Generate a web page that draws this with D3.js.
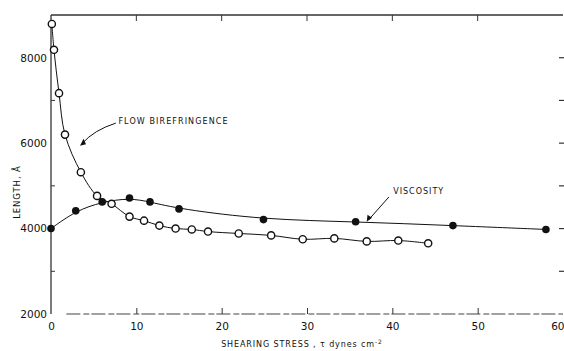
<!DOCTYPE html>
<html><head><meta charset="utf-8">
<script src="https://cdn.jsdelivr.net/npm/d3@7"></script>
<style>body{margin:0;background:#fff}svg{display:block}text{font-family:"DejaVu Sans",sans-serif;fill:#111}</style>
</head><body>
<svg id="c" width="564" height="351"></svg>
<script>
// Flow birefringence (open circles)
const flowX = [0.1,0.35,0.94,1.64,3.5,5.4,7.1,9.2,10.9,12.7,14.6,16.5,18.4,22.0,25.8,29.5,33.2,37.0,40.7,44.2];
const flowY = [8790,8185,7170,6200,5320,4765,4580,4280,4185,4070,4000,3980,3930,3885,3840,3750,3770,3700,3720,3655];
// Viscosity (filled circles)
const viscX = [0,2.9,6.0,9.2,11.6,15.0,24.9,35.7,47.1,58.0];
const viscY = [4000,4415,4625,4715,4625,4460,4210,4160,4070,3980];
const xTicks = [0,10,20,30,40,50,60];
const yLabelTicks = [2000,4000,6000,8000];
const yMinorTicks = [3000,5000,7000];
const yRightTicks = [3000,4000,5000,6000,7000,8000];

const svg = d3.select("#c");
const x = d3.scaleLinear().domain([0,60]).range([51,563]);
const y = d3.scaleLinear().domain([2000,9000]).range([314,15]);

// frame lines
svg.append("line").attr("x1",x(0)).attr("x2",x(0)).attr("y1",y(9000)).attr("y2",y(2000)).attr("stroke","#222").attr("stroke-width",1.2);
svg.append("line").attr("x1",x(0)).attr("x2",x(60)).attr("y1",y(9000)).attr("y2",y(9000)).attr("stroke","#333").attr("stroke-width",1.4);
svg.append("line").attr("x1",x(1.8)).attr("x2",x(60)).attr("y1",y(2000)).attr("y2",y(2000)).attr("stroke","#444").attr("stroke-width",1.2).attr("stroke-dasharray","14,3,6,2");

// bottom axis
const xb = d3.axisBottom(x).tickValues(xTicks).tickSize(-6).tickPadding(9).tickFormat(d3.format("d"));
const gx = svg.append("g").attr("transform",`translate(0,${y(2000)})`).call(xb);
gx.select(".domain").remove();
gx.selectAll(".tick line").attr("stroke","#333").filter(d=>d===0||d===60).remove();
gx.selectAll("text").attr("font-size",10.5).attr("fill","#222");
gx.selectAll(".tick text").filter(d=>d===60).attr("text-anchor","end").attr("dx",1);

// top ticks
svg.append("g").selectAll("line").data(xTicks.filter(d=>d>0&&d<60)).join("line")
  .attr("x1",d=>x(d)).attr("x2",d=>x(d)).attr("y1",y(9000)).attr("y2",y(9000)+6).attr("stroke","#333");

// left axis
const yl = d3.axisLeft(y).tickValues(yLabelTicks).tickSize(0).tickPadding(4).tickFormat(d3.format("d"));
const gy = svg.append("g").attr("transform",`translate(${x(0)},0)`).call(yl);
gy.select(".domain").remove();
gy.selectAll("text").attr("font-size",10.5).attr("fill","#222");
svg.append("g").selectAll("line").data(yMinorTicks).join("line")
  .attr("x1",x(0)).attr("x2",x(0)+4).attr("y1",d=>y(d)).attr("y2",d=>y(d)).attr("stroke","#333");
// right ticks
svg.append("g").selectAll("line").data(yRightTicks).join("line")
  .attr("x1",559).attr("x2",564).attr("y1",d=>y(d)).attr("y2",d=>y(d)).attr("stroke","#333").attr("stroke-width",1.2);

// curves
const flow = flowX.map((v,i)=>[v,flowY[i]]);
const visc = viscX.map((v,i)=>[v,viscY[i]]);
const lineC = d3.line().x(d=>x(d[0])).y(d=>y(d[1])).curve(d3.curveCatmullRom.alpha(0.5));
const lineB = d3.line().x(d=>x(d[0])).y(d=>y(d[1])).curve(d3.curveBasis);
svg.append("path").attr("d",lineC(flow)).attr("fill","none").attr("stroke","#111").attr("stroke-width",1);
svg.append("path").attr("d",lineB(visc)).attr("fill","none").attr("stroke","#111").attr("stroke-width",1);

svg.append("g").selectAll("circle").data(flow).join("circle")
  .attr("cx",d=>x(d[0])).attr("cy",d=>y(d[1])).attr("r",3.6)
  .attr("fill","#fff").attr("stroke","#111").attr("stroke-width",1.4);
svg.append("g").selectAll("circle").data(visc).join("circle")
  .attr("cx",d=>x(d[0])).attr("cy",d=>y(d[1])).attr("r",3.8).attr("fill","#111");

// annotations
svg.append("text").attr("x",x(7.9)).attr("y",y(6440)).attr("font-size",8).attr("letter-spacing",1.1).text("FLOW  BIREFRINGENCE");
svg.append("path").attr("d",`M${x(7.6)},${y(6470)} Q${x(5)},${y(6300)} ${x(3.7)},${y(6000)}`).attr("fill","none").attr("stroke","#111");
svg.append("path").attr("d",`M${x(3.4)},${y(5940)} l6,-1.5 l-2.5,-5.5 z`).attr("fill","#111");
svg.append("text").attr("x",x(40.1)).attr("y",y(4810)).attr("font-size",8).attr("letter-spacing",1).text("VISCOSITY");
svg.append("path").attr("d",`M${x(39.6)},${y(4740)} L${x(37.2)},${y(4200)}`).attr("fill","none").attr("stroke","#111");
svg.append("path").attr("d",`M${x(37.0)},${y(4160)} l0.8,-7 l4.5,3 z`).attr("fill","#111");

// axis titles
svg.append("text").attr("x",302).attr("y",347).attr("text-anchor","middle").attr("font-size",8).attr("letter-spacing",0.9)
  .html('SHEARING  STRESS , τ  dynes  cm<tspan dy="-3" font-size="6">-2</tspan>');
svg.append("text").attr("transform","translate(20,192) rotate(-90)").attr("text-anchor","middle").attr("font-size",8.5).attr("letter-spacing",0.9).text("LENGTH, Å");
</script>
</body></html>
